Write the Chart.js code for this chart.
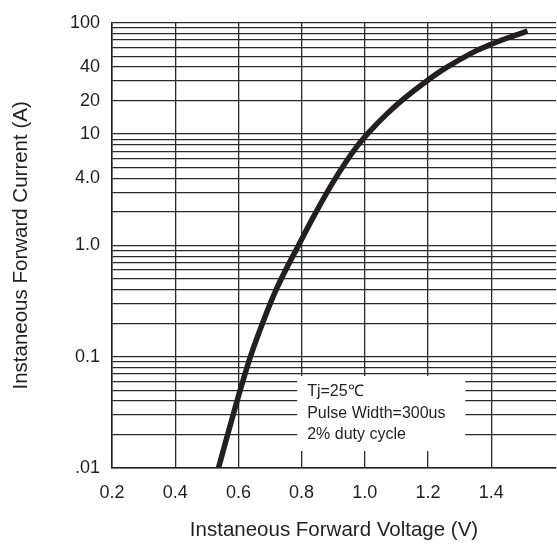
<!DOCTYPE html>
<html>
<head>
<meta charset="utf-8">
<script src="https://cdn.jsdelivr.net/npm/chart.js@4"></script>
<style>
  html, body { margin: 0; padding: 0; background: #fff; }
  #wrap { width: 557px; height: 547px; }
</style>
</head>
<body>
<div id="wrap"><canvas id="c" width="557" height="547"></canvas></div>
<script>
// ---- data ----
const voltage = [0.537, 0.566, 0.593, 0.638, 0.680, 0.722, 0.790, 0.843, 0.901, 0.970, 1.012, 1.070, 1.123, 1.197, 1.255, 1.344, 1.392, 1.460, 1.515];
const current = [0.01, 0.0200, 0.0376, 0.1, 0.213, 0.415, 1.0, 1.93, 3.76, 7.41, 10.3, 15.2, 20.7, 30.2, 39.1, 54.5, 62.8, 74.5, 84.3];

const xTickValues = [0.2, 0.4, 0.6, 0.8, 1.0, 1.2, 1.4];
const xTickLabels = ['0.2', '0.4', '0.6', '0.8', '1.0', '1.2', '1.4'];

const yGridValues = [
  0.01, 0.02, 0.03, 0.04, 0.05, 0.06, 0.07, 0.08, 0.09,
  0.1, 0.2, 0.3, 0.4, 0.5, 0.6, 0.7, 0.8, 0.9,
  1, 2, 3, 4, 5, 6, 7, 8, 9,
  10, 20, 30, 40, 50, 60, 70, 80, 90,
  100
];
const yLabelValues = [100, 40, 20, 10, 4, 1, 0.1, 0.01];
const yLabelTexts  = ['100', '40', '20', '10', '4.0', '1.0', '0.1', '.01'];

const noteLines = ['Tj=25\u2103', 'Pulse Width=300us', '2% duty cycle'];

const xTitle = 'Instaneous Forward Voltage (V)';
const yTitle = 'Instaneous Forward Current (A)';

const points = voltage.map((v, i) => ({ x: v, y: current[i] }));

const tickFont = { family: "'Liberation Sans', Arial, sans-serif", size: 18 };
const titleFont = { family: "'Liberation Sans', Arial, sans-serif", size: 20.5 };
const gridColor = '#2a2a2a';

const notePlugin = {
  id: 'note',
  beforeDatasetsDraw(chart) {
    const ctx = chart.ctx;
    const xs = chart.scales.x;
    const left = xs.getPixelForValue(0.786);
    const right = xs.getPixelForValue(1.318);
    const top = 376, bottom = 451;
    ctx.save();
    ctx.fillStyle = '#ffffff';
    ctx.fillRect(left, top, right - left, bottom - top);
    ctx.fillStyle = '#231f20';
    ctx.font = "16px 'Liberation Sans', Arial, sans-serif";
    ctx.textBaseline = 'middle';
    ctx.textAlign = 'left';
    const tx = left + 10;
    const ys = [392, 413.5, 435];
    noteLines.forEach((t, i) => ctx.fillText(t, tx, ys[i]));
    ctx.restore();
  }
};

new Chart(document.getElementById('c'), {
  type: 'line',
  data: {
    datasets: [{
      data: points,
      borderColor: '#231f20',
      borderWidth: 5.5,
      pointRadius: 0,
      fill: false,
      cubicInterpolationMode: 'monotone',
      borderCapStyle: 'butt'
    }]
  },
  options: {
    responsive: false,
    animation: false,
    devicePixelRatio: 1,
    layout: { padding: { left: 0, top: 13, right: 1, bottom: 0 } },
    plugins: { legend: { display: false }, tooltip: { enabled: false } },
    scales: {
      x: {
        type: 'linear',
        min: 0.2,
        max: 1.605,
        afterBuildTicks: s => { s.ticks = xTickValues.map(v => ({ value: v })); },
        afterFit: s => { s.height = 79; },
        ticks: {
          autoSkip: false,
          maxRotation: 0,
          padding: 14,
          color: '#231f20',
          font: tickFont,
          callback: (v) => { const i = xTickValues.findIndex(t => Math.abs(t - v) < 1e-6); return i >= 0 ? xTickLabels[i] : ''; }
        },
        grid: { color: gridColor, lineWidth: 1.3, drawTicks: false },
        border: { display: true, color: '#231f20', width: 1.5 },
        title: { display: true, text: xTitle, color: '#231f20', font: titleFont, padding: { top: 0, bottom: 4 } }
      },
      y: {
        type: 'logarithmic',
        min: 0.01,
        max: 100,
        afterBuildTicks: s => { s.ticks = yGridValues.map(v => ({ value: v })); },
        afterFit: s => { s.width = 112; },
        ticks: {
          autoSkip: false,
          padding: 12,
          color: '#231f20',
          font: tickFont,
          callback: (v) => { const i = yLabelValues.findIndex(t => Math.abs(t - v) / t < 1e-6); return i >= 0 ? yLabelTexts[i] : ''; }
        },
        grid: { color: gridColor, lineWidth: 1.3, drawTicks: false },
        border: { display: true, color: '#231f20', width: 1.5 },
        title: { display: true, text: yTitle, color: '#231f20', font: titleFont, padding: { top: 9, bottom: 0 } }
      }
    }
  },
  plugins: [notePlugin]
});
</script>
</body>
</html>
